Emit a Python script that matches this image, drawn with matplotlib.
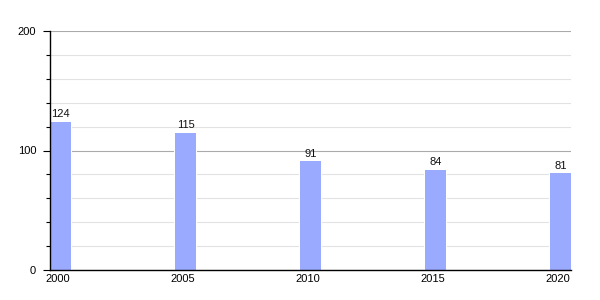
import matplotlib
matplotlib.use("Agg")
import matplotlib.pyplot as plt
from matplotlib.ticker import MultipleLocator
import matplotlib.transforms as mtransforms

years = [2000, 2005, 2010, 2015, 2020]
values = [124, 115, 91, 84, 81]
ytick_vals = [0, 100, 200]

plt.rcParams['font.family'] = ['Liberation Sans', 'DejaVu Sans']

fig = plt.figure(figsize=(6, 3), dpi=100)
ax = fig.add_axes([50/600, 30/300, 521/600, 239/300])

bar_w = 0.84
ax.set_xlim(years[0] - bar_w/2, years[-1] + bar_w/2)
ax.set_ylim(0, 200)

# grid
ax.yaxis.set_minor_locator(MultipleLocator(20))
ax.set_yticks(ytick_vals)
ax.grid(axis='y', which='minor', color='#e2e2e2', linewidth=0.8, zorder=0)
ax.grid(axis='y', which='major', color='#aaaaaa', linewidth=0.8, zorder=0)
ax.set_axisbelow(True)

# white halo behind bars
ax.bar(years, values, width=bar_w, color='white', edgecolor='white', linewidth=1.5, zorder=1)
bars = ax.bar(years, values, width=bar_w, color='#99aaff', linewidth=0, zorder=2)

for x, v in zip(years, values):
    ax.text(x, v + 2, str(v), ha='center', va='bottom', fontsize=8, color='#111111', zorder=3)

ax.set_xticks(years)
ax.set_xticklabels([str(y) for y in years], fontsize=8)
ax.tick_params(axis='x', length=0, pad=3)
ax.tick_params(axis='y', which='major', length=5, width=0.8, labelsize=8, pad=5, direction='out')
ax.tick_params(axis='y', which='minor', length=3, width=0.8, direction='out')

shift = mtransforms.ScaledTranslation(-3/100, 0, fig.dpi_scale_trans)
for lbl in ax.get_xticklabels():
    lbl.set_transform(lbl.get_transform() + shift)

for s in ['top', 'right']:
    ax.spines[s].set_visible(False)
ax.spines['left'].set_linewidth(1)
ax.spines['bottom'].set_linewidth(1)

fig.savefig('out.png', dpi=100)
